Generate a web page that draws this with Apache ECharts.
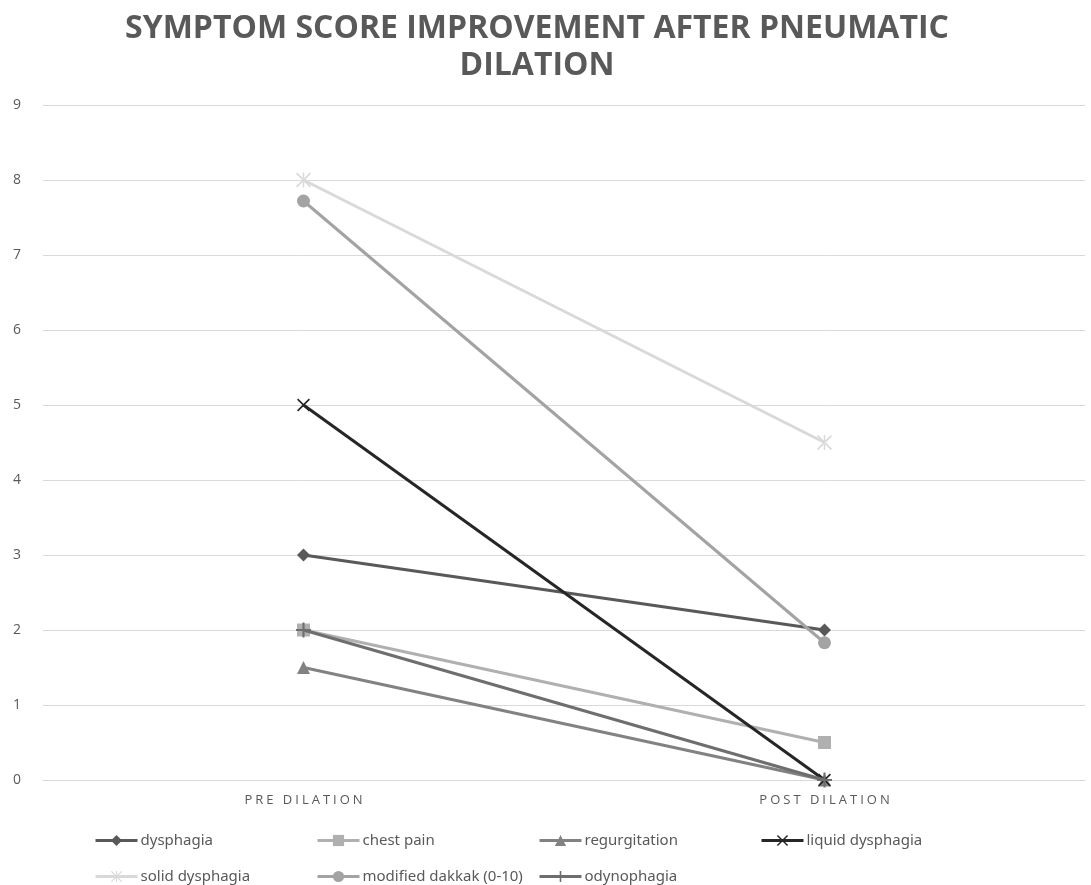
<!DOCTYPE html>
<html>
<head>
<meta charset="utf-8">
<script src="https://cdn.jsdelivr.net/npm/echarts@6/dist/echarts.min.js"></script>
<style>html,body{margin:0;padding:0;background:#fff;}#c{width:1091px;height:885px;}</style>
</head>
<body>
<div id="c"></div>
<script>
const categories = ['PRE DILATION', 'POST DILATION'];
const yTicks = [0, 1, 2, 3, 4, 5, 6, 7, 8, 9];
const dysphagia = [3, 2];
const chestPain = [2, 0.5];
const regurgitation = [1.5, 0];
const liquidDysphagia = [5, 0];
const solidDysphagia = [8, 4.5];
const modifiedDakkak = [7.72, 1.83];
const odynophagia = [2, 0];

const seriesNames = ['dysphagia', 'chest pain', 'regurgitation', 'liquid dysphagia', 'solid dysphagia', 'modified dakkak (0-10)', 'odynophagia'];
const seriesData = [dysphagia, chestPain, regurgitation, liquidDysphagia, solidDysphagia, modifiedDakkak, odynophagia];

const colors = ['#595959', '#B0B0B0', '#828282', '#262626', '#D9D9D9', '#A3A3A3', '#6E6E6E'];
const plusPath = 'path://M4.3,0H5.7V4.3H10V5.7H5.7V10H4.3V5.7H0V4.3H4.3Z';
const xPath = 'path://M0,0.9L0.9,0L5,4.1L9.1,0L10,0.9L5.9,5L10,9.1L9.1,10L5,5.9L0.9,10L0,9.1L4.1,5Z';
const starPath = 'path://M4.5,0H5.5V10H4.5ZM0,0.8L0.8,0L10,9.2L9.2,10ZM10,0.8L9.2,0L0,9.2L0.8,10Z';
const symbols = ['diamond', 'rect', 'triangle', xPath, starPath, 'circle', plusPath];
const symbolSizes = [13, 13, 13, 13, 15, 13, 15];

const legendPos = [
  [94, 833], [316, 833], [538, 833], [760, 833],
  [94, 869], [316, 869], [538, 869]
];

const series = seriesNames.map((n, i) => ({
  name: n,
  type: 'line',
  data: seriesData[i],
  symbol: symbols[i],
  symbolSize: symbolSizes[i],
  showAllSymbol: true,
  lineStyle: { width: 3, color: colors[i] },
  itemStyle: { color: colors[i], opacity: 1 },
  emphasis: { disabled: true },
  animation: false,
  z: 2 + i
}));

const legends = seriesNames.map((n, i) => ({
  data: [n],
  left: legendPos[i][0],
  top: legendPos[i][1],
  padding: 0,
  itemWidth: 42,
  itemHeight: 14,
  itemGap: 0,
  selectedMode: false,
  lineStyle: { width: 3 },
  textStyle: { fontFamily: 'Noto Sans', fontSize: 15, color: '#595959', padding: [0, 0, 0, -2] }
}));

function spaced(v) {
  return v.split('').map(ch => '{l|' + ch + '}').join('');
}

const chart = echarts.init(document.getElementById('c'), null, { renderer: 'canvas' });
chart.setOption({
  backgroundColor: '#ffffff',
  animation: false,
  title: {
    text: 'SYMPTOM SCORE IMPROVEMENT AFTER PNEUMATIC\nDILATION',
    left: 532,
    top: 5,
    textAlign: 'center',
    textStyle: { fontFamily: 'Open Sans', fontWeight: 'bold', fontSize: 32, color: '#595959', lineHeight: 37 }
  },
  legend: legends,
  grid: { left: 43, right: 6, top: 105, bottom: 105, containLabel: false },
  xAxis: {
    type: 'category',
    data: categories,
    boundaryGap: true,
    axisLine: { show: true, lineStyle: { color: '#D9D9D9', width: 1 } },
    axisTick: { show: false },
    axisLabel: {
      color: '#595959', fontFamily: 'Open Sans', fontSize: 13, margin: 14,
      formatter: spaced,
      rich: { l: { fontFamily: 'Open Sans', fontSize: 13, color: '#595959', padding: [0, 1.5, 0, 1.5] } }
    }
  },
  yAxis: {
    type: 'value',
    min: yTicks[0],
    max: yTicks[yTicks.length - 1],
    interval: 1,
    axisLine: { show: false },
    axisTick: { show: false },
    axisLabel: { color: '#595959', fontFamily: 'Open Sans', fontSize: 14, margin: 22 },
    splitLine: { show: true, lineStyle: { color: '#D9D9D9', width: 1 } }
  },
  series: series
});
</script>
</body>
</html>
